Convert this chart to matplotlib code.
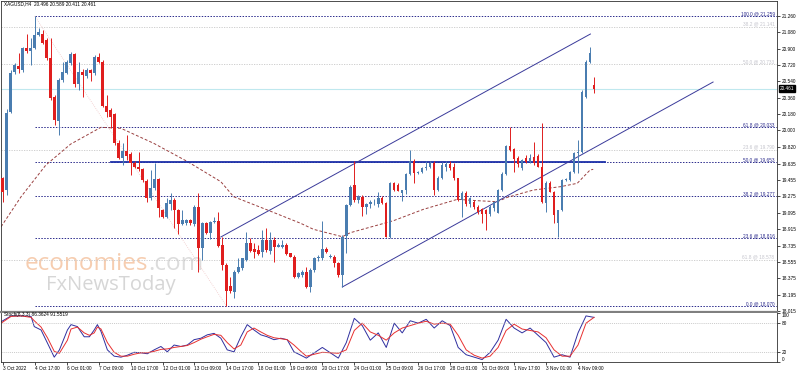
import matplotlib
matplotlib.use('Agg')
import matplotlib.pyplot as plt
import numpy as np

plt.rcParams['font.family'] = ['Liberation Sans', 'DejaVu Sans']

# XAGUSD H4 candles (open, high, low, close), bar index = position
opens = [19.474, 19.345, 20.207, 20.647, 20.709, 20.665, 20.903, 20.874, 20.903, 21.050,
         21.061, 20.995, 20.801, 20.365, 20.104, 20.555, 20.636, 20.738, 20.841, 20.511,
         20.639, 20.603, 20.665, 20.628, 20.812, 20.757, 20.273, 20.225, 20.181, 19.859,
         19.694, 19.774, 19.738, 19.646, 19.602, 19.573, 19.448, 19.261, 19.371, 19.466,
         19.125, 19.052, 19.191, 19.235, 19.125, 18.971, 18.979, 19.015, 18.971, 19.155,
         18.704, 18.979, 18.876, 18.997, 19.008, 18.740, 18.521, 18.290, 18.227, 18.447,
         18.484, 18.576, 18.759, 18.693, 18.685, 18.667, 18.795, 18.678, 18.795, 18.722,
         18.715, 18.740, 18.649, 18.612, 18.392, 18.411, 18.447, 18.282, 18.466, 18.594,
         18.594, 18.693, 18.612, 18.612, 18.546, 18.411, 18.839, 19.180, 19.400, 19.235,
         19.272, 19.160, 19.190, 19.210, 19.191, 19.254, 19.199, 18.832, 19.419, 19.400,
         19.309, 19.345, 19.521, 19.668, 19.530, 19.547, 19.584, 19.602, 19.639, 19.345,
         19.480, 19.600, 19.631, 19.600, 19.474, 19.235, 19.316, 19.191, 19.217, 19.162,
         19.133, 19.125, 19.081, 19.144, 19.096, 19.345, 19.521, 19.829, 19.800, 19.694,
         19.584, 19.694, 19.657, 19.710, 19.720, 19.602, 19.206, 19.426, 19.327, 18.979,
         19.125, 19.455, 19.455, 19.547, 19.749, 19.760, 20.372, 20.757, 20.496]
highs = [19.492, 20.233, 20.665, 20.746, 20.856, 20.922, 21.061, 21.013, 21.259, 21.124,
         21.105, 21.013, 21.013, 20.390, 20.573, 20.757, 20.775, 20.867, 20.856, 20.757,
         20.672, 20.683, 20.672, 20.830, 20.848, 20.775, 20.390, 20.244, 20.196, 19.895,
         19.859, 19.950, 19.767, 19.668, 19.767, 19.584, 19.463, 19.565, 19.639, 19.474,
         19.133, 19.254, 19.309, 19.254, 19.133, 19.125, 19.023, 19.023, 19.180, 19.309,
         18.997, 18.997, 19.008, 19.052, 19.107, 18.832, 18.539, 18.392, 18.466, 18.594,
         18.594, 18.887, 18.814, 18.759, 18.740, 18.905, 18.924, 18.887, 18.832, 18.759,
         18.795, 18.759, 18.656, 18.631, 18.447, 18.466, 18.502, 18.484, 18.612, 18.631,
         19.008, 18.715, 18.640, 18.631, 18.557, 18.850, 19.190, 19.400, 19.664, 19.290,
         19.290, 19.200, 19.240, 19.250, 19.327, 19.280, 19.210, 19.435, 19.435, 19.420,
         19.350, 19.530, 19.785, 19.690, 19.560, 19.600, 19.660, 19.660, 19.660, 19.500,
         19.650, 19.660, 19.660, 19.640, 19.480, 19.330, 19.330, 19.270, 19.240, 19.180,
         19.150, 19.140, 19.180, 19.230, 19.360, 19.540, 19.840, 20.035, 19.810, 19.720,
         19.690, 19.730, 19.740, 19.877, 19.740, 20.079, 19.440, 19.440, 19.340, 19.130,
         19.470, 19.480, 19.560, 19.760, 19.895, 20.440, 20.770, 20.922, 20.589]
lows = [19.217, 19.290, 20.196, 20.621, 20.628, 20.647, 20.848, 20.720, 20.892, 21.039,
        20.951, 20.775, 20.335, 20.060, 19.950, 20.537, 20.621, 20.720, 20.482, 20.445,
        20.365, 20.573, 20.548, 20.610, 20.738, 20.262, 20.152, 20.024, 19.840, 19.683,
        19.620, 19.675, 19.510, 19.584, 19.554, 19.437, 19.217, 19.235, 19.345, 19.052,
        19.034, 19.034, 19.125, 18.924, 18.861, 18.960, 18.960, 18.960, 18.949, 18.447,
        18.576, 18.861, 18.803, 18.979, 18.715, 18.466, 18.070, 18.216, 18.154, 18.429,
        18.466, 18.568, 18.667, 18.594, 18.627, 18.612, 18.667, 18.642, 18.557, 18.715,
        18.704, 18.631, 18.605, 18.374, 18.374, 18.392, 18.264, 18.227, 18.447, 18.568,
        18.576, 18.656, 18.594, 18.502, 18.392, 18.282, 18.656, 19.170, 19.210, 19.200,
        19.060, 19.080, 19.150, 19.180, 19.160, 19.190, 18.825, 18.820, 19.330, 19.330,
        19.228, 19.300, 19.510, 19.419, 19.520, 19.530, 19.570, 19.590, 19.290, 19.330,
        19.470, 19.560, 19.570, 19.460, 19.220, 19.052, 19.170, 19.160, 19.140, 19.080,
        18.979, 18.905, 19.060, 19.120, 19.090, 19.330, 19.510, 19.770, 19.540, 19.600,
        19.570, 19.640, 19.640, 19.620, 19.600, 19.200, 19.107, 19.320, 18.979, 18.825,
        19.110, 19.440, 19.440, 19.530, 19.536, 19.750, 20.360, 20.740, 20.411]
closes = [19.327, 20.189, 20.636, 20.720, 20.672, 20.903, 20.870, 20.903, 21.050, 21.087,
          20.958, 20.793, 20.354, 20.115, 20.555, 20.647, 20.749, 20.841, 20.511, 20.639,
          20.610, 20.665, 20.628, 20.812, 20.757, 20.269, 20.207, 20.152, 19.859, 19.694,
          19.774, 19.723, 19.646, 19.602, 19.573, 19.455, 19.254, 19.371, 19.466, 19.144,
          19.052, 19.199, 19.235, 19.125, 18.971, 19.015, 19.015, 18.979, 19.155, 18.704,
          18.979, 18.876, 18.997, 19.008, 18.729, 18.521, 18.238, 18.238, 18.447, 18.502,
          18.594, 18.759, 18.678, 18.667, 18.638, 18.795, 18.685, 18.795, 18.715, 18.740,
          18.740, 18.642, 18.612, 18.392, 18.429, 18.447, 18.282, 18.466, 18.594, 18.605,
          18.693, 18.667, 18.625, 18.539, 18.411, 18.832, 19.180, 19.382, 19.235, 19.270,
          19.160, 19.190, 19.210, 19.215, 19.254, 19.199, 18.832, 19.419, 19.345, 19.338,
          19.345, 19.521, 19.668, 19.529, 19.547, 19.584, 19.602, 19.639, 19.345, 19.480,
          19.620, 19.631, 19.584, 19.474, 19.235, 19.316, 19.191, 19.254, 19.162, 19.107,
          19.081, 19.081, 19.162, 19.217, 19.345, 19.521, 19.829, 19.785, 19.683, 19.631,
          19.675, 19.657, 19.694, 19.639, 19.602, 19.217, 19.426, 19.327, 19.070, 19.125,
          19.455, 19.463, 19.547, 19.749, 19.767, 20.427, 20.757, 20.848, 20.461]

# moving average (bar index, price)
ma_bar = [-0.4, 4.6, 10.8, 17.0, 24.6, 29.6, 37.8, 46.3, 54.6, 57.8, 66.3, 74.6,
          77.8, 85.0, 87.0, 97.8, 105.3, 113.8, 118.8, 123.8, 126.3, 132.8, 139.6,
          143.8, 147.0, 147.8]
ma_val = [18.942, 19.272, 19.620, 19.850, 20.035, 20.024, 19.859, 19.657, 19.437,
          19.272, 19.125, 18.979, 18.913, 18.832, 18.876, 19.008, 19.133, 19.243,
          19.228, 19.217, 19.265, 19.345, 19.382, 19.419, 19.565, 19.573]

# stochastic oscillator (bar index, value)
st_bar = [-0.4, 2.1, 4.6, 7.1, 7.9, 9.6, 11.2, 12.9, 14.2, 16.2, 17.1, 18.7, 20.4,
          21.7, 22.9, 23.7, 24.6, 26.2, 27.9, 29.6, 31.2, 32.9, 34.6, 36.2, 37.9,
          39.6, 41.2, 42.9, 44.6, 46.2, 47.9, 49.6, 51.2, 52.9, 54.6, 56.2, 57.9,
          59.6, 61.2, 62.9, 64.6, 66.2, 67.9, 69.6, 71.2, 72.9, 74.6, 76, 80, 84,
          86, 88, 90, 92, 94, 96, 98, 100, 102, 104, 106, 108, 110, 112, 114, 116,
          118, 120, 122, 124, 126, 128, 130, 132, 134, 136, 138, 140, 142, 144,
          146, 148]
st_main = [83, 95, 95, 94, 73, 66, 39, 10, 25, 66, 77, 73, 52, 52, 66, 77, 63, 25,
           12, 10, 14, 20, 19, 17, 25, 32, 21, 35, 32, 35, 46, 49, 56, 59, 49, 25,
           21, 52, 77, 66, 56, 52, 46, 49, 46, 21, 14, 8, 30, 8, 40, 90, 75, 45, 60,
           30, 80, 60, 85, 80, 88, 70, 85, 75, 30, 15, 10, 5, 20, 45, 88, 70, 60,
           70, 55, 40, 10, 15, 10, 60, 95, 92]
st_sig = [80, 94, 95, 92, 85, 72, 50, 22, 18, 45, 68, 72, 60, 55, 60, 72, 68, 40,
          20, 12, 12, 16, 19, 19, 22, 26, 27, 30, 32, 34, 40, 47, 52, 57, 55, 40,
          27, 35, 62, 70, 62, 55, 50, 48, 46, 35, 22, 12, 20, 18, 25, 65, 80, 62,
          55, 45, 60, 70, 75, 80, 84, 78, 80, 78, 55, 25, 14, 8, 12, 30, 65, 78,
          68, 65, 62, 50, 25, 12, 12, 35, 80, 92]

# fibonacci levels (dark set starts at the swing high bar, faint set spans chart)
fib_dark = [21.259, 20.033, 19.653, 19.277, 18.816, 18.070]
fib_dark_lbl = ['100.0 @ 21.259', '61.8 @ 20.033', '50.0 @ 19.653',
                '38.2 @ 19.277', '23.6 @ 18.816', '0.0 @ 18.070']
fib_faint = [21.141, 20.733, 19.790, 18.578]
fib_faint_lbl = ['38.2 @ 21.141', '50.0 @ 20.733', '23.6 @ 19.790', '61.8 @ 18.578']

price_ticks = [21.260, 21.080, 20.900, 20.720, 20.540, 20.360, 20.180, 20.000,
               19.820, 19.635, 19.455, 19.275, 19.095, 18.915, 18.735, 18.555,
               18.375, 18.195, 18.015]
date_ticks = ['3 Oct 2022', '4 Oct 17:00', '6 Oct 01:00', '7 Oct 09:00', '10 Oct 17:00',
              '12 Oct 01:00', '13 Oct 09:00', '14 Oct 17:00', '18 Oct 01:00',
              '19 Oct 09:00', '20 Oct 17:00', '24 Oct 01:00', '25 Oct 09:00',
              '26 Oct 17:00', '28 Oct 01:00', '31 Oct 09:00', '1 Nov 17:00',
              '3 Nov 01:00', '4 Nov 09:00']

# drawing objects (bar index, price)
chan_low = ([85, 177.8], [18.279, 20.533])
chan_up = ([54.6, 147.1], [18.829, 21.061])
hline_level, hline_span = 19.653, (27, 150.8)
fib_diag = ([8, 56], [21.259, 18.070])
last_price = 20.461

BULL = '#4A7DB0'
BEAR = '#E01E1E'
NAVY = '#2B2B8C'
FS = 3.4

W, H = 798, 372
fig = plt.figure(figsize=(W / 100, H / 100), dpi=100)
ax = fig.add_axes([1 / W, (H - 312) / H, 776 / W, 311 / H])
ax2 = fig.add_axes([1 / W, (H - 362) / H, 776 / W, 49 / H], sharex=ax)

n = len(closes)
x = np.arange(n)
o, hi, lo, c = map(np.array, (opens, highs, lows, closes))
up = c >= o
cols = np.where(up, BULL, BEAR)

ax.vlines(x, lo, hi, colors=cols, linewidth=0.7, zorder=3)
body = np.maximum(np.abs(c - o), 0.006)
ax.bar(x, body, bottom=np.minimum(o, c), width=0.62, color=cols, linewidth=0, zorder=4)

ax.plot(ma_bar, ma_val, color='#9A4040', lw=0.7, dashes=(3, 2), zorder=2)

xmin, xmax = -0.425, 193.8
for lv, lb in zip(fib_faint, fib_faint_lbl):
    ax.axhline(lv, color='#C8C8C8', lw=0.6, ls=(0, (1.5, 1.5)), zorder=1)
    ax.text(xmax - 0.6, lv, lb, color='#C4C4CC', fontsize=FS, ha='right', va='bottom')
for lv, lb in zip(fib_dark, fib_dark_lbl):
    ax.plot([8, xmax], [lv, lv], color=NAVY, lw=0.7, ls=(0, (1.5, 1.5)), zorder=1)
    ax.text(xmax - 0.6, lv, lb, color=NAVY, fontsize=FS, ha='right', va='bottom')
ax.plot(*fib_diag, color='#F0C8C8', lw=0.6, ls=(0, (1, 1.5)), zorder=1)

ax.axhline(last_price, color='#BFE8EE', lw=0.8, zorder=1)
ax.plot(hline_span, [hline_level] * 2, color='#1C2FA8', lw=1.3, zorder=2)
ax.plot(*chan_low, color='#3A3A9A', lw=0.7, zorder=2)
ax.plot(*chan_up, color='#3A3A9A', lw=0.7, zorder=2)

# watermark
t1 = ax.text(5.6, 18.466, 'economies', color='#F6CDB0', fontsize=17.5,
             fontfamily='Open Sans', va='baseline', zorder=0)
ax.annotate('.com', xy=(1, 0), xycoords=t1, color='#DCDCDC', fontsize=17.5,
            fontfamily='Open Sans', va='bottom', ha='left', zorder=0)
ax.text(10.8, 18.246, 'FxNewsToday', color='#D6D6D6', fontsize=14.5,
        fontfamily='Open Sans', va='baseline', zorder=0)

ax.text(0.4, 21.395, 'XAGUSD,H4  20.496 20.589 20.411 20.461', fontsize=FS,
        va='center', ha='left')

ax.set_xlim(xmin, xmax)
ax.set_ylim(18.004, 21.424)
ax.yaxis.tick_right()
ax.set_yticks(price_ticks)
ax.set_yticklabels(['%.3f' % v for v in price_ticks])
ax.tick_params(axis='y', labelsize=FS, length=2, width=0.5, pad=1.5)
ax.tick_params(axis='x', bottom=False, labelbottom=False)
# last price marker
ax.text(xmax + 0.6, last_price, '%.3f' % last_price, fontsize=FS, color='white',
        va='center', ha='left', clip_on=False,
        bbox=dict(boxstyle='square,pad=0.15', fc='black', ec='black'))

for a in (ax, ax2):
    for s in a.spines.values():
        s.set_linewidth(0.6)
        s.set_color('#303030')
ax.spines['bottom'].set_linewidth(1.6)
ax.spines['bottom'].set_color('#808080')
ax2.spines['top'].set_visible(False)

# stochastic panel
ax2.plot(st_bar, st_main, color='#2F2F9F', lw=0.7)
ax2.plot(st_bar, st_sig, color='#E83030', lw=0.7)
for lv in (80, 20):
    ax2.axhline(lv, color='#B8B8B8', lw=0.5, ls=(0, (1.5, 1.5)))
ax2.set_ylim(0, 101)
ax2.yaxis.tick_right()
ax2.set_yticks([100, 80, 20, 0])
ax2.set_yticklabels(['100', '80', '20', '0'])
ax2.tick_params(axis='y', labelsize=FS, length=2, width=0.5, pad=1.5)
labs = ax2.get_yticklabels()
labs[0].set_va('top')
labs[3].set_va('bottom')
ax2.text(0.4, 97, 'Stoch(8,3,3) 86.3624 91.5519', fontsize=FS, va='center')

ax2.set_xticks(np.arange(0, 145, 8))
ax2.set_xticklabels(date_ticks)
ax2.tick_params(axis='x', labelsize=FS, length=2, width=0.5, pad=1)
for t in ax2.get_xticklabels():
    t.set_ha('left')

fig.savefig('out.png', dpi=100)
